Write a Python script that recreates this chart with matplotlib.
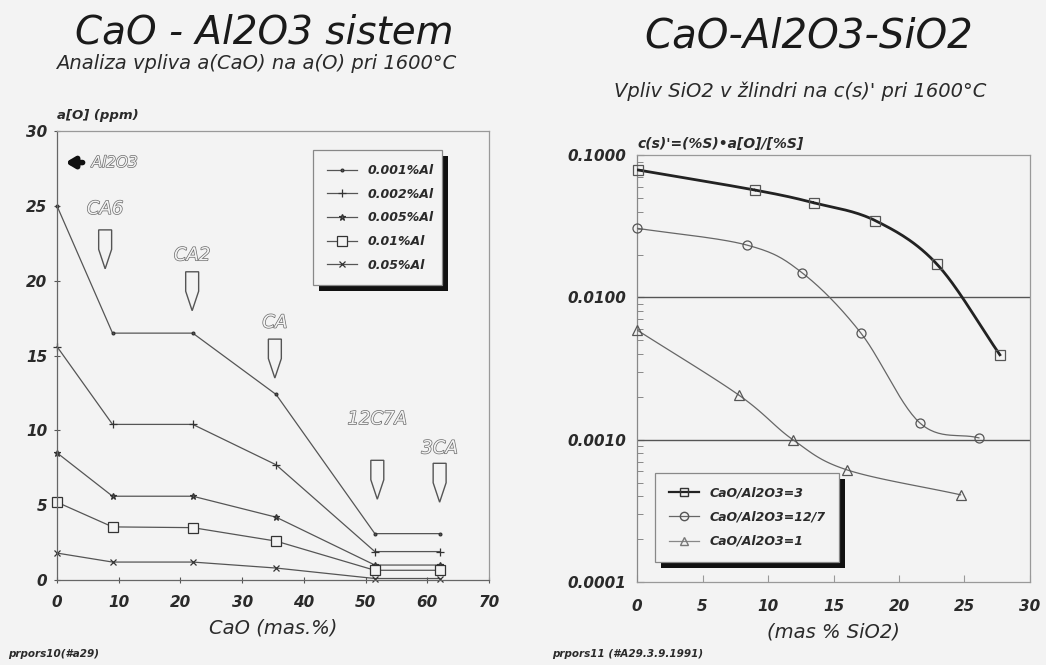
import numpy as np
import matplotlib
matplotlib.use("Agg")
import matplotlib.pyplot as plt
import matplotlib.patheffects as pe
from matplotlib.patches import Polygon, Rectangle
from matplotlib.lines import Line2D

plt.rcParams["font.family"] = ["DejaVu Sans"]
plt.rcParams["font.style"] = "italic"

BG = "#f3f3f3"
INK = "#2a2a2a"
LINE = "#555555"

# ---- left chart data: CaO - Al2O3 ----
cao = [0, 9, 22, 35.5, 51.5, 62]
ao_labels = ["0.001%Al", "0.002%Al", "0.005%Al", "0.01%Al", "0.05%Al"]
ao_001 = [25.0, 16.5, 16.5, 12.4, 3.1, 3.1]
ao_002 = [15.6, 10.4, 10.4, 7.7, 1.9, 1.9]
ao_005 = [8.5, 5.6, 5.6, 4.2, 1.0, 1.0]
ao_01 = [5.2, 3.55, 3.5, 2.6, 0.65, 0.65]
ao_05 = [1.8, 1.2, 1.2, 0.8, 0.1, 0.1]
ao_series = [ao_001, ao_002, ao_005, ao_01, ao_05]

# phase markers: label, CaO %, top of pointer, height of label
phases = ["CA6", "CA2", "CA", "12C7A", "3CA"]
phase_x = [7.8, 21.9, 35.3, 51.9, 62.0]
phase_top = [23.4, 20.6, 16.1, 8.0, 7.8]
phase_label_y = [24.8, 21.7, 17.2, 10.75, 8.8]

# ---- right chart data: CaO-Al2O3-SiO2 ----
cs_labels = ["CaO/Al2O3=3", "CaO/Al2O3=12/7", "CaO/Al2O3=1"]
sio2_3 = [0.1, 9.0, 13.5, 18.2, 22.9, 27.7]
cs_3 = [0.0785, 0.0568, 0.0462, 0.0346, 0.0171, 0.00395]
sio2_127 = [0.0, 8.4, 12.6, 17.1, 21.6, 26.1]
cs_127 = [0.0306, 0.0233, 0.0149, 0.0056, 0.00131, 0.00103]
sio2_1 = [0.0, 7.8, 11.9, 16.0, 24.7]
cs_1 = [0.0059, 0.00205, 0.0010, 0.000615, 0.00041]


def smooth(xs, ys, n=30):
    """Catmull-Rom curve through the points, in log space for y."""
    x = np.asarray(xs, float)
    y = np.log10(np.asarray(ys, float))
    px = np.concatenate([[2 * x[0] - x[1]], x, [2 * x[-1] - x[-2]]])
    py = np.concatenate([[2 * y[0] - y[1]], y, [2 * y[-1] - y[-2]]])
    ox, oy = [], []
    t = np.linspace(0, 1, n)
    for i in range(1, len(px) - 2):
        for arr, out in ((px, ox), (py, oy)):
            p0, p1, p2, p3 = arr[i - 1:i + 3]
            out.extend(0.5 * (2 * p1 + (-p0 + p2) * t
                              + (2 * p0 - 5 * p1 + 4 * p2 - p3) * t ** 2
                              + (-p0 + 3 * p1 - 3 * p2 + p3) * t ** 3))
    return np.array(ox), 10 ** np.array(oy)


def add_shadow(fig, ax, leg, off=6):
    # black drop shadow, offset right and down like the old plotter output
    fig.canvas.draw()
    bb = leg.get_window_extent()
    W, H = fig.bbox.width, fig.bbox.height
    r = Rectangle(((bb.x0 + off) / W, (bb.y0 - off) / H), bb.width / W, bb.height / H,
                  transform=fig.transFigure, facecolor="#111111", edgecolor="none",
                  zorder=9, clip_on=False)
    ax.add_patch(r)


fig = plt.figure(figsize=(10.46, 6.65), dpi=100, facecolor=BG)

# ================= left chart =================
ax1 = fig.add_axes([0.0545, 0.1278, 0.413, 0.675], facecolor=BG)
markers = [".", "+", "*", "s", "x"]
msizes = [4, 6, 5, 7, 4]
for vals, lab, m, ms in zip(ao_series, ao_labels, markers, msizes):
    ax1.plot(cao, vals, color=LINE, lw=0.9, marker=m, ms=ms, mfc=BG if m == "s" else LINE,
             mec="#333333", mew=0.9, label=lab, clip_on=False)

ax1.set_xlim(0, 70)
ax1.set_ylim(0, 30)
ax1.set_xticks(range(0, 71, 10))
ax1.set_yticks(range(0, 31, 5))
ax1.tick_params(direction="inout", length=4, color=LINE, labelsize=11, colors=INK, pad=5)
ax1.tick_params(axis="x", pad=9)
for t in ax1.get_xticklabels() + ax1.get_yticklabels():
    t.set_fontweight("bold")
for s in ax1.spines.values():
    s.set_color("#999999")
    s.set_linewidth(0.9)
ax1.spines["left"].set_color("#666666")
ax1.spines["bottom"].set_color("#666666")
ax1.set_xlabel("CaO (mas.%)", fontsize=14, color=INK, labelpad=6)
ax1.text(0, 30.6, "a[O] (ppm)", fontsize=9.5, fontweight="bold", color=INK, va="bottom")

# Al2O3 arrow
ax1.annotate("", xy=(0.9, 27.9), xytext=(4.6, 27.9),
             arrowprops=dict(arrowstyle="-|>,head_length=0.5,head_width=0.3", lw=4, color="#111111"))
outline = [pe.withStroke(linewidth=1.0, foreground="#6a6a6a")]
ax1.text(5.6, 27.9, "Al2O3", fontsize=11, color=BG, va="center", path_effects=outline)

# phase pointer shapes
for lab, px, top, ly in zip(phases, phase_x, phase_top, phase_label_y):
    hw, body, tip = 1.05, 1.3, 2.6
    poly = Polygon([(px - hw, top), (px + hw, top), (px + hw, top - body),
                    (px, top - tip), (px - hw, top - body)],
                   closed=True, facecolor=BG, edgecolor="#555555", lw=1.0, zorder=3)
    ax1.add_patch(poly)
    ax1.text(px, ly, lab, fontsize=13, color=BG, ha="center", va="center",
             path_effects=outline)

leg1 = ax1.legend(loc="upper left", bbox_to_anchor=(0.579, 0.657, 0.326, 0.314), mode="expand",
                  frameon=True, fancybox=False, edgecolor="#888888", facecolor=BG,
                  prop=dict(size=9, weight="bold", style="italic"), labelcolor=INK,
                  handlelength=2.4, labelspacing=0.85, borderpad=1.1, framealpha=1)
leg1.get_frame().set_linewidth(0.9)

fig.text(0.253, 0.934, "CaO - Al2O3 sistem", fontsize=28, color="#1a1a1a", ha="center", va="baseline")
fig.text(0.245, 0.896, "Analiza vpliva a(CaO) na a(O) pri 1600°C", fontsize=14, color=INK,
         ha="center", va="baseline")
fig.text(0.008, 0.012, "prpors10(#a29)", fontsize=7.5, color=INK, fontweight="bold")

# ================= right chart =================
ax2 = fig.add_axes([0.609, 0.1248, 0.3757, 0.642], facecolor=BG)
ax2.set_yscale("log")
series = [(sio2_3, cs_3, "s", 2.0, "#222222"),
          (sio2_127, cs_127, "o", 0.9, "#666666"),
          (sio2_1, cs_1, "^", 0.9, "#666666")]
for (xs, ys, m, lw, c), lab in zip(series, cs_labels):
    sx, sy = smooth(xs, ys)
    ax2.plot(sx, sy, color=c, lw=lw, zorder=3)
    ax2.plot(xs, ys, ls="none", marker=m, ms=6.5, mfc="none", mec="#555555", mew=0.9, zorder=4,
             clip_on=False)

ax2.set_xlim(0, 30)
ax2.set_ylim(1e-4, 1e-1)
ax2.set_xticks(range(0, 31, 5))
ax2.set_yticks([1e-4, 1e-3, 1e-2, 1e-1])
ax2.set_yticklabels(["0.0001", "0.0010", "0.0100", "0.1000"])
ax2.tick_params(axis="y", which="major", direction="in", length=5, color=LINE, labelsize=11,
                colors=INK, pad=8)
ax2.tick_params(axis="y", which="minor", direction="in", length=4, color="#777777")
ax2.tick_params(axis="x", direction="in", length=5, color="#999999", labelsize=11, colors=INK, pad=12)
for t in ax2.get_xticklabels() + ax2.get_yticklabels():
    t.set_fontweight("bold")
for yv in (1e-2, 1e-3):
    ax2.axhline(yv, color="#555555", lw=1.0, zorder=2)
for s in ax2.spines.values():
    s.set_color("#999999")
    s.set_linewidth(0.9)
ax2.spines["left"].set_color("#888888")
ax2.set_xlabel("(mas % SiO2)", fontsize=14, color=INK, labelpad=6)
ax2.text(0, 0.107, "c(s)'=(%S)•a[O]/[%S]", fontsize=10, fontweight="bold", color=INK, va="bottom")

handles = [Line2D([], [], color="#222222", lw=1.6, marker="s", ms=6, mfc="none", mec="#333333"),
           Line2D([], [], color="#666666", lw=0.9, marker="o", ms=6, mfc="none", mec="#555555"),
           Line2D([], [], color="#888888", lw=0.9, marker="^", ms=6, mfc="none", mec="#777777")]
leg2 = ax2.legend(handles, cs_labels, loc="lower left", bbox_to_anchor=(0.031, 0.033, 0.498, 0.211),
                  mode="expand", frameon=True, fancybox=False, edgecolor="#888888", facecolor=BG,
                  prop=dict(size=9, weight="bold", style="italic"), labelcolor=INK,
                  handlelength=2.4, labelspacing=0.9, borderpad=1.1, framealpha=1)
leg2.get_frame().set_linewidth(0.9)

fig.text(0.773, 0.929, "CaO-Al2O3-SiO2", fontsize=29, color="#1a1a1a", ha="center", va="baseline")
fig.text(0.765, 0.854, "Vpliv SiO2 v žlindri na c(s)' pri 1600°C", fontsize=14, color=INK,
         ha="center", va="baseline")
fig.text(0.528, 0.012, "prpors11 (#A29.3.9.1991)", fontsize=7.5, color=INK, fontweight="bold")

leg1.set_zorder(10)
leg2.set_zorder(10)
add_shadow(fig, ax1, leg1)
add_shadow(fig, ax2, leg2)

fig.savefig("out.png", dpi=100, facecolor=BG)
